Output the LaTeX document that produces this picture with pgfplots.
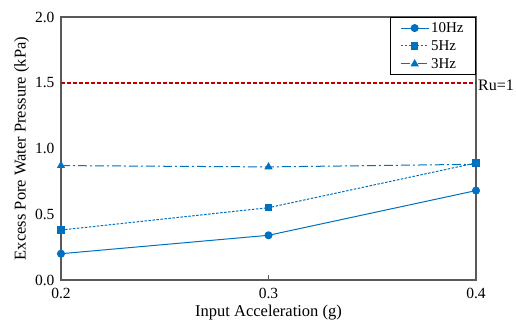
\documentclass[border=0pt]{standalone}
\usepackage{pgfplots}
\pgfplotsset{compat=1.18}
\usepackage{fontspec}
\setmainfont{Liberation Serif}
\definecolor{exblue}{HTML}{0070C0}
\definecolor{exred}{HTML}{C00000}
\definecolor{axgray}{HTML}{595959}
\begin{document}
\begin{tikzpicture}
\begin{axis}[
  name=ax,
  scale only axis,
  width=415pt, height=263pt,
  xmin=0.2, xmax=0.4, ymin=0, ymax=2,
  xtick={0.2,0.3,0.4}, ytick={0,0.5,1,1.5,2},
  /pgf/number format/assume math mode=true,
  /pgf/number format/fixed, /pgf/number format/fixed zerofill, /pgf/number format/precision=1,
  tick label style={font=\fontsize{15.5}{18}\selectfont},
  label style={font=\fontsize{16.5}{20}\selectfont},
  xlabel={Input Acceleration (g)},
  ylabel={Excess Pore Water Pressure (kPa)},
  axis line style={axgray, line width=1.2pt},
  major tick style={axgray, line width=0.8pt},
  major y tick style={draw=none},
  tick align=inside,
  major tick length=5pt,
  xtick pos=bottom,
  ytick pos=left,
  xticklabel style={yshift=-5pt},
  yticklabel style={xshift=-3pt},
  xlabel style={yshift=1pt},
  ylabel style={yshift=-1pt},
  legend style={at={(1,1)}, anchor=north east, draw=black, line width=0.7pt, fill=white,
    font=\fontsize{15}{18}\selectfont, row sep=2.5pt, inner xsep=10pt, inner ysep=3pt},
  legend cell align=left,
  legend image code/.code={
    \draw[mark repeat=2, mark phase=2, line width=1pt] plot coordinates {(0pt,0pt) (14pt,0pt) (28pt,0pt)};
  },
  every axis plot/.append style={line width=1pt},
  clip=false,
]
\addplot[exblue, solid, mark=*, mark size=3.5pt] coordinates {(0.2,0.20) (0.3,0.34) (0.4,0.68)};
\addlegendentry{10Hz}
\addplot[exblue, dash pattern=on 2.5pt off 1.5pt, mark=square*, mark size=3.3pt, mark options={solid}] coordinates {(0.2,0.38) (0.3,0.55) (0.4,0.89)};
\addlegendentry{5Hz}
\addplot[exblue, dash pattern=on 9pt off 3pt on 2pt off 3pt, mark=triangle*, mark size=3.8pt, mark options={solid}] coordinates {(0.2,0.87) (0.3,0.86) (0.4,0.88)};
\addlegendentry{3Hz}
\addplot[exred, line width=1.5pt, dash pattern=on 4pt off 2pt, forget plot] coordinates {(0.2,1.5) (0.4,1.5)};
\node[anchor=west, font=\fontsize{16}{19}\selectfont, inner sep=2pt] at (axis cs:0.4,1.48) {Ru=1};
\end{axis}
\path ([shift={(-61pt,-44pt)}]ax.south west) rectangle ([shift={(40pt,17pt)}]ax.north east);
\end{tikzpicture}
\end{document}
